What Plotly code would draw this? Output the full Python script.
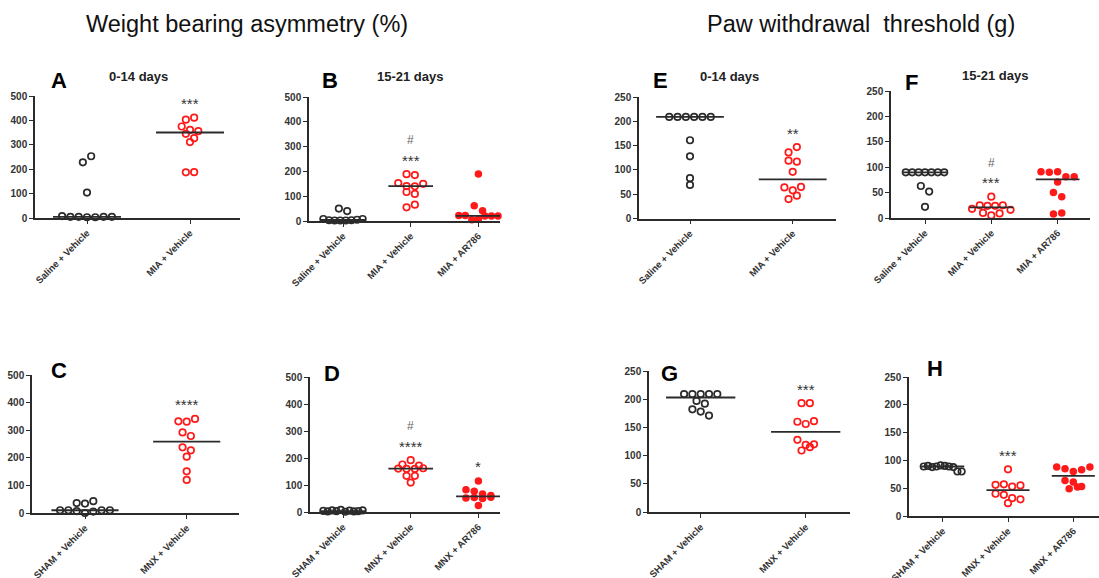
import numpy as np
import plotly.graph_objects as go

# ---------------- data ----------------
A_cats = ["Saline + Vehicle", "MIA + Vehicle"]
A_saline = [8, 5, 5, 3, 3, 5, 5, 104, 228, 253]
A_mia = [403, 411, 375, 361, 345, 356, 327, 311, 187, 188]
A_sig = ["", "***"]
A_hash = ["", ""]

B_cats = ["Saline + Vehicle", "MIA + Vehicle", "MIA + AR786"]
B_saline = [8, 3, 2, 2, 2, 3, 5, 8, 50, 40]
B_mia = [189, 185, 153, 141, 140, 150, 117, 109, 55, 66]
B_ar = [190, 61, 41, 22, 22, 5, 8, 20, 20, 20]
B_sig = ["", "***", ""]
B_hash = ["", "#", ""]

C_cats = ["SHAM + Vehicle", "MNX + Vehicle"]
C_sham = [10, 10, 7, 0, 5, 10, 10, 36, 34, 43]
C_mnx = [332, 331, 341, 292, 279, 238, 227, 204, 151, 120]
C_sig = ["", "****"]
C_hash = ["", ""]

D_cats = ["SHAM + Vehicle", "MNX + Vehicle", "MNX + AR786"]
D_sham = [4, 2, 6, 3, 8, 1, 5, 2, 3, 6]
D_mnx = [176, 192, 172, 161, 160, 160, 162, 134, 134, 109]
D_ar = [115, 82, 77, 67, 61, 52, 54, 50, 55, 24]
D_sig = ["", "****", "*"]
D_hash = ["", "#", ""]

E_cats = ["Saline + Vehicle", "MIA + Vehicle"]
E_saline = [209, 209, 209, 209, 209, 209, 161, 128, 83, 69]
E_mia = [136, 147, 119, 117, 96, 64, 58, 65, 40, 47]
E_sig = ["", "**"]
E_hash = ["", ""]

F_cats = ["Saline + Vehicle", "MIA + Vehicle", "MIA + AR786"]
F_saline = [90, 90, 90, 90, 90, 90, 90, 63, 52, 22]
F_mia = [42, 18, 25, 24, 24, 25, 16, 10, 5, 9]
F_ar = [91, 90, 91, 81, 71, 81, 50, 42, 8, 10]
F_sig = ["", "***", ""]
F_hash = ["", "#", ""]

G_cats = ["SHAM + Vehicle", "MNX + Vehicle"]
G_sham = [209, 209, 209, 209, 209, 197, 192, 182, 178, 171]
G_mnx = [193, 193, 160, 156, 161, 128, 119, 109, 115, 120]
G_sig = ["", "***"]
G_hash = ["", ""]

H_cats = ["SHAM + Vehicle", "MNX + Vehicle", "MNX + AR786"]
H_sham = [89, 90, 88, 89, 91, 90, 89, 88, 80, 80]
H_mnx = [84, 56, 57, 53, 55, 40, 38, 32, 30, 23]
H_ar = [88, 85, 80, 83, 88, 64, 61, 53, 49, 52]
H_sig = ["", "***", ""]
H_hash = ["", "", ""]

WB_ticks = [0, 100, 200, 300, 400, 500]
PW_ticks = [0, 50, 100, 150, 200, 250]

# ---------------- layout geometry (pixels) ----------------
W, HT = 1099, 578
FONT = "Arial, Liberation Sans, sans-serif"
BLACK = "#2b2b2b"
RED = "#ff1a1a"

panels = [
    # letter, subtitle, cats, groups, sig, hash, ticks, box(L,R,top,bottom), cat px, letter pos, subtitle pos
    ("A", "0-14 days", A_cats, [A_saline, A_mia], A_sig, A_hash, WB_ticks,
     (35, 240, 96, 218), (87, 190), (59, 80), (138, 77)),
    ("B", "15-21 days", B_cats, [B_saline, B_mia, B_ar], B_sig, B_hash, WB_ticks,
     (309, 500, 97, 221), (343, 410.7), (330, 80), (410, 77)),
    ("C", "", C_cats, [C_sham, C_mnx], C_sig, C_hash, WB_ticks,
     (32, 239, 375, 513), (85, 186.7), (59, 370), None),
    ("D", "", D_cats, [D_sham, D_mnx, D_ar], D_sig, D_hash, WB_ticks,
     (310, 500, 377, 512), (343, 410.7), (332, 373), None),
    ("E", "0-14 days", E_cats, [E_saline, E_mia], E_sig, E_hash, PW_ticks,
     (639, 836, 97, 218.5), (690, 792.7), (660, 80), (729, 77)),
    ("F", "15-21 days", F_cats, [F_saline, F_mia, F_ar], F_sig, F_hash, PW_ticks,
     (891, 1090, 91, 218), (925, 991.3), (911, 83), (995, 75)),
    ("G", "", G_cats, [G_sham, G_mnx], G_sig, G_hash, PW_ticks,
     (649, 850, 371, 512), (700.7, 805.7), (669, 373), None),
    ("H", "", H_cats, [H_sham, H_mnx, H_ar], H_sig, H_hash, PW_ticks,
     (909, 1099, 377, 516), (942.7, 1008), (935, 368), None),
]

STYLES = [
    dict(symbol="circle-open", size=6.5, color=BLACK, line=dict(width=1.7, color=BLACK)),
    dict(symbol="circle-open", size=6.5, color=RED, line=dict(width=1.7, color=RED)),
    dict(symbol="circle", size=7.5, color=RED, line=dict(width=0)),
]


def swarm(vals, py, sp, d=8.3, h=6.5, maxfrac=0.58):
    """GraphPad-like scatter: bin values into rows (from top), center each row."""
    vals = np.asarray(vals, float)
    order = np.argsort(-vals, kind="stable")
    rows, cur, start = [], [order[0]], vals[order[0]]
    for i in order[1:]:
        if (start - vals[i]) * py <= h:
            cur.append(i)
        else:
            rows.append(cur)
            cur, start = [i], vals[i]
    rows.append(cur)
    off = np.zeros(len(vals))
    for r in rows:
        n = len(r)
        step = d if n < 2 else min(d, maxfrac * sp / (n - 1))
        for k, i in enumerate(sorted(r)):
            off[i] = (k - (n - 1) / 2) * step
    return off / sp


fig = go.Figure()
layout = dict(
    width=W, height=HT, margin=dict(l=0, r=0, t=0, b=0, autoexpand=False),
    paper_bgcolor="white", plot_bgcolor="white", showlegend=False,
    font=dict(family=FONT, color=BLACK),
)
annotations = []

for idx, (letter, sub, cats, groups, sig, hsh, yt, box, cpx, lpos, spos) in enumerate(panels):
    n = idx + 1
    xa, ya = f"x{n}", f"y{n}"
    L, R, T, B = box
    sp = cpx[1] - cpx[0]
    xr = [(L - cpx[0]) / sp, (R - cpx[0]) / sp]
    ymax = yt[-1]
    py = (B - T) / ymax  # px per unit
    layout[f"xaxis{n}"] = dict(
        domain=[L / W, R / W], range=xr, anchor=ya, automargin=False,
        tickvals=list(range(len(cats))), ticktext=cats, tickangle=-45,
        ticks="outside", ticklen=4, tickwidth=1.3, tickcolor=BLACK,
        showline=True, linecolor=BLACK, linewidth=1.5,
        showgrid=False, zeroline=False, fixedrange=True,
        tickfont=dict(family=FONT, size=9.5, color="#333333", weight="bold"),
    )
    layout[f"yaxis{n}"] = dict(
        domain=[1 - B / HT, 1 - T / HT], range=[0, ymax], anchor=xa, automargin=False,
        tickvals=yt, ticks="outside", ticklen=4, tickwidth=1.3, tickcolor=BLACK,
        showline=True, linecolor=BLACK, linewidth=1.5,
        showgrid=False, zeroline=False, fixedrange=True,
        tickfont=dict(family=FONT, size=10, color="#333333", weight="bold"),
    )
    for g, vals in enumerate(groups):
        off = swarm(vals, py, sp)
        fig.add_trace(go.Scatter(
            x=g + off, y=vals, mode="markers", xaxis=xa, yaxis=ya,
            marker=STYLES[g], cliponaxis=False, hoverinfo="y",
        ))
        med = float(np.median(vals))
        fig.add_trace(go.Scatter(
            x=[g - 0.33, g + 0.33], y=[med, med], mode="lines",
            xaxis=xa, yaxis=ya, line=dict(color=BLACK, width=1.8),
            cliponaxis=False, hoverinfo="skip",
        ))
        top = max(vals)
        if sig[g]:
            annotations.append(dict(
                x=g, y=top, xref=xa, yref=ya, text=sig[g], showarrow=False,
                yanchor="middle", yshift=14,
                font=dict(family=FONT, size=15, color="#333333"),
            ))
        if hsh[g]:
            annotations.append(dict(
                x=g, y=top, xref=xa, yref=ya, text=hsh[g], showarrow=False,
                yanchor="middle", yshift=34,
                font=dict(family=FONT, size=12, color="#666666"),
            ))
    annotations.append(dict(
        x=lpos[0] / W, y=1 - lpos[1] / HT, xref="paper", yref="paper",
        text=f"<b>{letter}</b>", showarrow=False, xanchor="center", yanchor="middle",
        font=dict(family=FONT, size=22, color="#000000"),
    ))
    if spos is not None:
        annotations.append(dict(
            x=spos[0] / W, y=1 - spos[1] / HT, xref="paper", yref="paper",
            text=f"<b>{sub}</b>", showarrow=False, xanchor="center", yanchor="middle",
            font=dict(family=FONT, size=13, color="#222222"),
        ))

annotations.append(dict(
    x=246.5 / W, y=1 - 24 / HT, xref="paper", yref="paper",
    text="Weight bearing asymmetry (%)", showarrow=False,
    xanchor="center", yanchor="middle", font=dict(family=FONT, size=23.5, color="#111111"),
))
annotations.append(dict(
    x=861 / W, y=1 - 24 / HT, xref="paper", yref="paper",
    text="Paw withdrawal  threshold (g)", showarrow=False,
    xanchor="center", yanchor="middle", font=dict(family=FONT, size=23.5, color="#111111"),
))
layout["annotations"] = annotations
fig.update_layout(**layout)

fig.write_html("out.html", config={"displayModeBar": False},
               post_script="document.body.style.margin='0';document.body.style.overflow='hidden';")
